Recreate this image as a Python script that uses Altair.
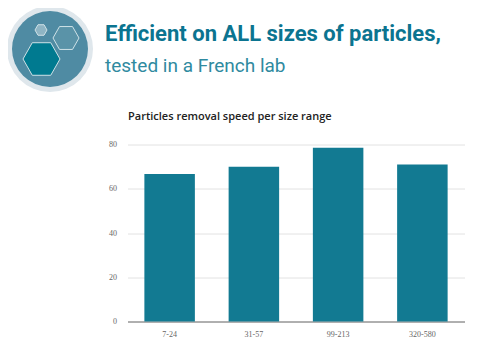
import altair as alt
import pandas as pd

categories = ["7-24", "31-57", "99-213", "320-580"]
speeds = [66.7, 70, 78.5, 71]
y_ticks = [0, 20, 40, 60, 80]
headline = "Efficient on ALL sizes of particles,"
subline = "tested in a French lab"
chart_title = "Particles removal speed per size range"

TEAL = "#127a92"
HEX = "M-1,0L-0.5,-0.88L0.5,-0.88L1,0L0.5,0.88L-0.5,0.88Z"
OX, OY = 127.5, 144.5  # plot origin in page pixels


def px(v):
    return alt.value(v - OX)


def py(v):
    return alt.value(v - OY)


df = pd.DataFrame({"range": categories, "speed": speeds})
one = alt.Data(values=[{"a": 1}])

bars = alt.Chart(df).mark_bar(color=TEAL, size=50.5).encode(
    x=alt.X(
        "range:N",
        sort=categories,
        title=None,
        scale=alt.Scale(paddingInner=0.4, paddingOuter=0.2),
        axis=alt.Axis(
            labelAngle=0, labelFontSize=8, labelColor="#666666", labelFont="Liberation Serif",
            ticks=False, labelPadding=9, domainColor="#9a9a9a", domainWidth=1.5,
            grid=False,
        ),
    ),
    y=alt.Y(
        "speed:Q",
        title=None,
        scale=alt.Scale(domain=[0, 80], nice=False),
        axis=alt.Axis(
            values=y_ticks, labelFontSize=8, labelColor="#666666", labelFont="Liberation Serif",
            ticks=False, labelPadding=11, domain=False, gridColor="#e2e2e2", gridWidth=1,
        ),
    ),
)


def dot(cx, cy, d, fill, shape="circle", stroke=None, sw=0):
    kw = dict(shape=shape, filled=True, fill=fill, opacity=1, size=d * d)
    if stroke:
        kw.update(stroke=stroke, strokeWidth=sw)
    return alt.Chart(one).mark_point(**kw).encode(x=px(cx), y=py(cy))


def label(txt, x, y, size, color, font, weight="normal"):
    return alt.Chart(one).mark_text(
        text=txt, align="left", baseline="alphabetic", fontSize=size, color=color,
        font=font, fontWeight=weight,
    ).encode(x=px(x), y=py(y))


layers = [
    bars,
    dot(50, 49, 86, "#dfe7ec"),
    dot(50, 49, 76, "#4f8ba3"),
    dot(41.5, 59, 37, "#007a90", HEX, "#cfe2e7", 1),
    dot(66, 38, 26, "#5a93a8", HEX, "#cfe2e7", 1),
    dot(41, 30, 12, "#8fb5c4", HEX, "#cfe2e7", 1),
    label(headline, 105, 41, 22, "#0b7490", "Roboto", "bold"),
    label(subline, 105, 72, 19, "#2f8aa0", "Roboto", "normal"),
    label(chart_title, 128, 120, 11, "#222222", "Open Sans", 600),
]

chart = alt.layer(*layers).properties(
    width=337,
    height=177,
    autosize=alt.AutoSizeParams(type="none"),
    padding={"left": 119.5, "top": 136.5, "right": 0, "bottom": 24},
).configure_view(stroke=None)

chart.save("out.html", embed_options={"renderer": "svg", "actions": False})
